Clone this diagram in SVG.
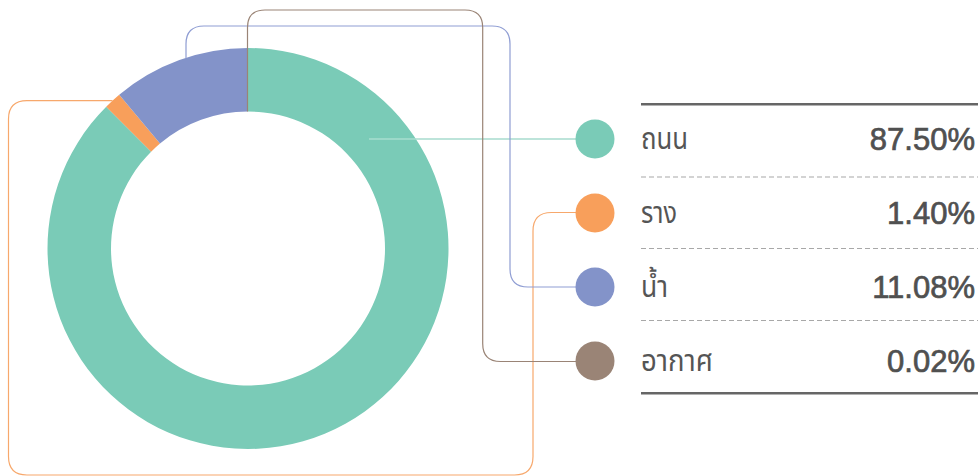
<svg xmlns="http://www.w3.org/2000/svg" width="978" height="476" viewBox="0 0 978 476">
<style>
.lbl{font-family:"Noto Sans Thai","Noto Sans","DejaVu Sans",sans-serif;font-size:30px;fill:#555}
.val{font-family:"Liberation Sans",Arial,sans-serif;font-size:31px;fill:#505050;stroke:#505050;stroke-width:0.7;text-anchor:end}
.conn{fill:none;stroke-width:1.2}
.solid{stroke:#666;stroke-width:2.4}
.dash{stroke:#a8a8a8;stroke-width:1.2;stroke-dasharray:5 3}
</style>
<rect width="978" height="476" fill="#fff"/>
<g id="donut">
<path id="seg-road" d="M248,48 A200.5 200.5 0 1 1 106.23,106.73 L151.13,151.63 A137 137 0 1 0 248,111.5 Z" fill="#7acbb7"/>
<path id="seg-rail" d="M106.23,106.73 A200.5 200.5 0 0 1 119.23,94.82 L160.01,143.49 A137 137 0 0 0 151.13,151.63 Z" fill="#f89f5b"/>
<path id="seg-water" d="M119.23,94.82 A200.5 200.5 0 0 1 247.75,48 L247.83,111.5 A137 137 0 0 0 160.01,143.49 Z" fill="#8393c9"/>
<path id="seg-air" d="M247.75,48 L248,48 L248,111.5 L247.83,111.5 Z" fill="#9a8476"/>
</g>
<g id="connectors">
<line x1="369" y1="139" x2="419" y2="139" stroke="#a8decf" stroke-width="1.4"/>
<line x1="419" y1="139" x2="595" y2="139" stroke="#7dcab6" stroke-width="1.2"/>
<path class="conn" stroke="#f7a86c" d="M112.5,100.7 H27 Q8.5,100.7 8.5,119 V456.5 Q8.5,475 27,475 H514.5 Q533,475 533,456.5 V231 Q533,212.5 551.5,212.5 H595"/>
<path class="conn" stroke="#8f9dd3" d="M186,58 V44 Q186,26 204,26 H492 Q510,26 510,44 V269 Q510,287 528,287 H595"/>
<path class="conn" stroke="#9a8476" stroke-width="1.5" d="M247.5,111.5 V27.5 Q247.5,10 265,10 H465 Q482.7,10 482.7,27.5 V343.5 Q482.7,361.5 500.5,361.5 H595"/>
</g>
<g id="legend-lines">
<line class="solid" x1="641" y1="104.3" x2="978" y2="104.3"/>
<line class="dash" x1="641" y1="177" x2="978" y2="177"/>
<line class="dash" x1="641" y1="248.5" x2="978" y2="248.5"/>
<line class="dash" x1="641" y1="320.5" x2="978" y2="320.5"/>
<line class="solid" x1="641" y1="393.3" x2="978" y2="393.3"/>
</g>
<g id="row-road">
<circle cx="595" cy="139" r="19.5" fill="#7acbb7"/>
<text class="lbl" x="641" y="149" textLength="47" lengthAdjust="spacingAndGlyphs">ถนน</text>
<text class="val" x="975" y="150">87.50%</text>
</g>
<g id="row-rail">
<circle cx="595" cy="213" r="19.5" fill="#f89f5b"/>
<text class="lbl" x="641" y="223" textLength="36" lengthAdjust="spacingAndGlyphs">ราง</text>
<text class="val" x="975" y="224">1.40%</text>
</g>
<g id="row-water">
<circle cx="595" cy="287" r="19.5" fill="#8393c9"/>
<text class="lbl" x="641" y="297" textLength="27" lengthAdjust="spacingAndGlyphs">น้ำ</text>
<text class="val" x="975" y="298">11.08%</text>
</g>
<g id="row-air">
<circle cx="595" cy="361" r="19.5" fill="#9a8476"/>
<text class="lbl" x="641" y="371" textLength="72" lengthAdjust="spacingAndGlyphs">อากาศ</text>
<text class="val" x="975" y="372">0.02%</text>
</g>
</svg>
